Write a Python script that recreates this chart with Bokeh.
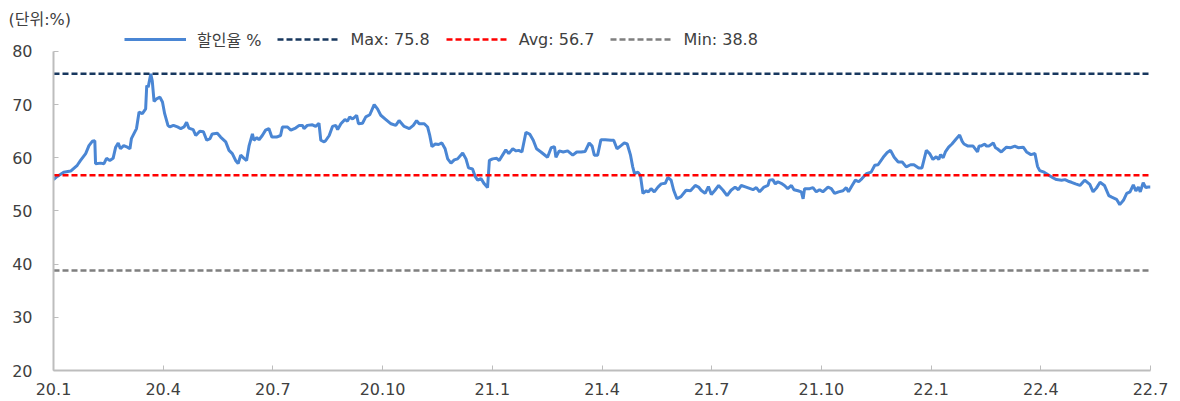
from bokeh.plotting import figure
from bokeh.models import FixedTicker, Legend, LegendItem
from bokeh.embed import file_html
from bokeh.resources import INLINE

# months since 2020-01 (0 = 20.1, 30 = 22.7)
months = [0.00, 0.10, 0.28, 0.47, 0.65, 0.74, 0.88, 0.97, 1.06, 1.13, 1.15, 1.29, 1.38, 1.45, 1.54, 1.63,
          1.70, 1.77, 1.83, 1.92, 2.02, 2.09, 2.13, 2.27, 2.34, 2.43, 2.52, 2.55, 2.59, 2.66, 2.70, 2.75,
          2.82, 2.91, 2.98, 3.04, 3.13, 3.18, 3.28, 3.39, 3.48, 3.57, 3.64, 3.70, 3.82, 3.89, 4.00, 4.10,
          4.19, 4.28, 4.34, 4.48, 4.57, 4.71, 4.80, 4.89, 4.98, 5.05, 5.12, 5.21, 5.28, 5.35, 5.44, 5.48,
          5.56, 5.62, 5.71, 5.80, 5.89, 5.97, 6.10, 6.21, 6.26, 6.40, 6.49, 6.62, 6.72, 6.81, 6.85, 6.94,
          7.08, 7.17, 7.26, 7.31, 7.40, 7.45, 7.54, 7.63, 7.72, 7.77, 7.86, 7.97, 8.04, 8.10, 8.18, 8.29,
          8.34, 8.45, 8.54, 8.65, 8.77, 8.86, 8.95, 9.09, 9.23, 9.36, 9.45, 9.59, 9.73, 9.84, 9.93, 10.00,
          10.14, 10.23, 10.29, 10.35, 10.44, 10.53, 10.62, 10.71, 10.78, 10.87, 10.96, 11.05, 11.19, 11.28,
          11.35, 11.46, 11.53, 11.60, 11.69, 11.78, 11.87, 11.92, 12.01, 12.12, 12.19, 12.28, 12.37, 12.45,
          12.56, 12.65, 12.72, 12.81, 12.92, 13.03, 13.12, 13.21, 13.33, 13.51, 13.61, 13.70, 13.74, 13.83,
          13.94, 14.06, 14.20, 14.31, 14.43, 14.54, 14.65, 14.73, 14.79, 14.88, 14.93, 14.97, 15.09, 15.25,
          15.32, 15.41, 15.52, 15.61, 15.69, 15.78, 15.84, 15.89, 15.98, 16.05, 16.12, 16.21, 16.27, 16.34,
          16.43, 16.53, 16.62, 16.73, 16.80, 16.89, 16.96, 17.05, 17.16, 17.30, 17.42, 17.55, 17.64, 17.71,
          17.82, 17.91, 17.99, 18.09, 18.19, 18.31, 18.42, 18.53, 18.64, 18.73, 18.81, 18.94, 19.13, 19.22,
          19.31, 19.43, 19.54, 19.58, 19.67, 19.74, 19.81, 19.90, 19.99, 20.08, 20.18, 20.25, 20.36, 20.45,
          20.50, 20.54, 20.68, 20.77, 20.86, 20.95, 21.04, 21.18, 21.27, 21.36, 21.47, 21.59, 21.68, 21.74,
          21.84, 21.93, 22.02, 22.11, 22.23, 22.36, 22.46, 22.55, 22.69, 22.80, 22.89, 22.99, 23.10, 23.21,
          23.32, 23.44, 23.53, 23.66, 23.75, 23.87, 23.96, 24.05, 24.14, 24.21, 24.26, 24.33, 24.39, 24.48,
          24.57, 24.69, 24.78, 24.85, 24.90, 25.01, 25.15, 25.27, 25.31, 25.36, 25.47, 25.51, 25.58, 25.70,
          25.76, 25.81, 25.92, 26.06, 26.18, 26.29, 26.38, 26.52, 26.61, 26.73, 26.84, 26.91, 26.97, 27.09,
          27.20, 27.34, 27.43, 27.57, 27.66, 27.75, 27.84, 27.95, 28.07, 28.20, 28.34, 28.43, 28.52, 28.62,
          28.74, 28.86, 28.94, 29.07, 29.16, 29.26, 29.35, 29.44, 29.53, 29.60, 29.67, 29.72, 29.80, 29.87,
          29.94, 30.00]

discount = [55.9, 56.5, 57.3, 57.5, 58.6, 59.5, 60.8, 62.3, 63.1, 63.2, 58.9, 59.0, 58.9, 59.9, 59.5, 59.9,
            62.0, 62.8, 61.7, 62.3, 62.0, 61.7, 63.6, 65.5, 68.6, 68.3, 69.2, 73.6, 73.3, 75.8, 74.5, 70.6,
            71.1, 71.4, 70.5, 68.3, 66.1, 65.8, 66.1, 65.8, 65.5, 65.8, 66.7, 65.6, 65.3, 64.2, 65.0, 64.9,
            63.3, 63.6, 64.5, 64.6, 63.9, 63.0, 61.4, 60.8, 59.5, 58.9, 60.5, 59.9, 59.5, 62.3, 64.5, 63.3,
            63.8, 63.4, 64.2, 65.2, 65.5, 63.9, 63.9, 64.2, 65.8, 65.8, 65.2, 65.6, 66.1, 66.1, 65.5, 66.1,
            66.2, 65.9, 66.5, 63.3, 63.0, 63.3, 64.2, 65.9, 66.1, 65.3, 66.4, 67.2, 66.9, 67.7, 67.3, 68.0,
            66.4, 66.5, 67.7, 68.1, 70.0, 69.2, 68.0, 67.2, 66.4, 66.1, 67.0, 65.9, 65.5, 66.1, 67.0, 66.4,
            66.4, 65.8, 64.2, 62.1, 62.6, 62.5, 62.8, 61.7, 59.8, 59.0, 59.6, 59.8, 60.9, 59.8,
            58.1, 57.9, 56.5, 55.8, 56.1, 55.1, 54.4, 59.5, 59.8, 59.9, 59.5, 60.5, 61.5, 60.8,
            61.7, 61.3, 61.4, 61.1, 64.8, 64.4, 63.3, 61.7, 61.1, 60.1, 61.9, 62.1, 60.1, 61.3,
            61.1, 61.3, 60.5, 61.1, 61.1, 61.2, 62.8, 62.2, 60.5, 60.5, 62.1, 63.4, 63.4, 63.3,
            63.3, 61.7, 62.3, 62.8, 62.6, 60.5, 58.3, 57.0, 57.3, 56.7, 53.3, 53.8, 53.6, 54.2,
            53.6, 54.5, 55.1, 55.2, 56.3, 55.8, 53.9, 52.3, 52.7, 53.9, 53.8, 54.8, 54.5, 53.9,
            53.3, 54.6, 53.1, 53.9, 54.8, 53.9, 52.9, 53.9, 54.5, 54.0, 54.8, 54.5, 54.0, 54.4,
            53.6, 54.5, 54.8, 55.8, 55.9, 55.1, 55.5, 55.2, 54.8, 54.2, 54.8, 54.0, 53.8, 53.6,
            52.3, 54.2, 54.2, 54.4, 53.6, 54.0, 53.6, 54.5, 54.2, 53.3, 53.6, 53.8, 54.4, 53.6,
            54.8, 55.8, 55.5, 56.1, 57.0, 57.3, 58.6, 58.7, 60.1, 61.0, 61.4, 60.1, 59.2, 59.2,
            58.3, 58.7, 58.7, 58.1, 58.1, 61.4, 60.8, 59.7, 60.2, 59.7, 60.6, 60.0, 61.1, 62.0,
            62.6, 63.6, 64.3, 63.1, 62.6, 62.2, 62.2, 61.1, 62.2, 62.2, 62.6, 62.2, 62.2, 62.8,
            61.9, 61.7, 61.1, 62.0, 61.9, 62.2, 61.9, 62.0, 61.1, 60.6, 60.8, 58.4, 57.6, 57.3,
            56.8, 56.2, 55.9, 55.8, 55.9, 55.6, 55.4, 55.1, 54.8, 55.8, 55.0, 53.6, 54.3, 55.4,
            54.8, 52.9, 52.6, 52.2, 51.2, 52.0, 53.3, 53.6, 54.9, 53.8, 54.5, 53.6, 55.3, 54.4,
            54.5, 54.5]

tick_months = [0, 3, 6, 9, 12, 15, 18, 21, 24, 27, 30]
tick_labels = ["20.1", "20.4", "20.7", "20.10", "21.1", "21.4", "21.7", "21.10", "22.1", "22.4", "22.7"]
y_ticks = [20, 30, 40, 50, 60, 70, 80]

stat_names = ["Max", "Avg", "Min"]
stat_values = [75.8, 56.7, 38.8]
stat_colors = ["#17375E", "#FF0000", "#7F7F7F"]

series_name = "할인율 %"
unit_text = "(단위:%)"

FONT = "'DejaVu Sans', 'Noto Sans CJK KR', sans-serif"
TXT = "#404040"

# frame top sits above the 80 line so that the legend fits inside it
p = figure(width=1180, height=401, output_backend="svg", toolbar_location=None,
           x_range=(0, 30), y_range=(20, 84.32),
           min_border_left=53, min_border_right=30, min_border_top=28, min_border_bottom=31)
p.outline_line_color = None
p.xgrid.visible = False
p.ygrid.visible = False
p.background_fill_color = "white"
p.border_fill_color = "white"

main = p.line(months, discount, line_color="#4A86D4", line_width=3)

stat_renderers = []
for name, val, col in zip(stat_names, stat_values, stat_colors):
    r = p.line([months[0], months[-1]], [val, val], line_color=col, line_width=2.5, line_dash="6 3")
    stat_renderers.append(r)

for ax in (p.xaxis[0], p.yaxis[0]):
    ax.axis_line_color = "#BDBDBD"
    ax.axis_line_width = 2
    ax.major_tick_line_color = "#BDBDBD"
    ax.major_tick_line_width = 1
    ax.major_tick_in = 5
    ax.major_tick_out = 0
    ax.minor_tick_line_color = None
    ax.major_label_text_font = FONT
    ax.major_label_text_font_size = "16px"
    ax.major_label_text_color = TXT

p.xaxis.ticker = FixedTicker(ticks=tick_months)
p.xaxis.major_label_overrides = {t: l for t, l in zip(tick_months, tick_labels)}
p.xaxis.major_label_standoff = 12
p.yaxis.ticker = FixedTicker(ticks=y_ticks)
p.yaxis.bounds = (y_ticks[0], y_ticks[-1])
p.yaxis.major_label_standoff = 21

p.title.text = unit_text
p.title.align = "left"
p.title.offset = -45
p.title.standoff = 0
p.title.text_font = FONT
p.title.text_font_size = "16px"
p.title.text_font_style = "normal"
p.title.text_color = TXT

items = [LegendItem(label=series_name, renderers=[main])]
for name, val, r in zip(stat_names, stat_values, stat_renderers):
    items.append(LegendItem(label=f"{name}: {val}", renderers=[r]))

legend = Legend(items=items, orientation="horizontal", location=(71, 319),
                glyph_width=62, glyph_height=16, label_standoff=11, spacing=16,
                padding=0, margin=0, border_line_color=None, background_fill_alpha=0,
                label_text_font=FONT, label_text_font_size="16px", label_text_color=TXT)
p.add_layout(legend, "center")

open("out.html", "w").write(file_html(p, INLINE))
